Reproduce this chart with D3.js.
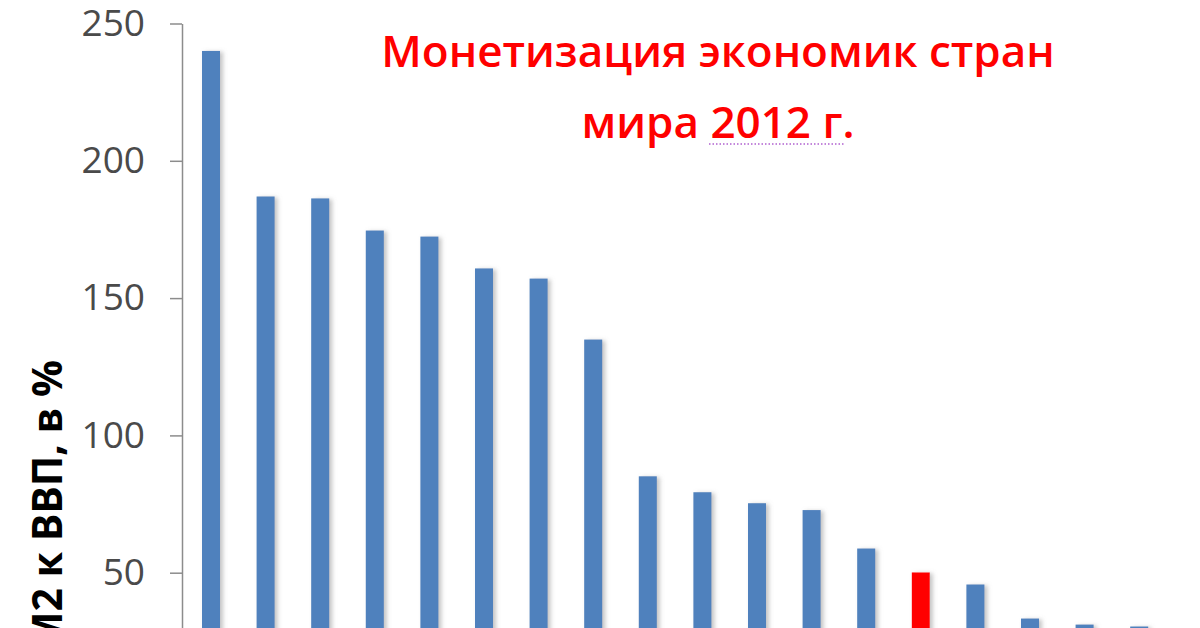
<!DOCTYPE html>
<html>
<head>
<meta charset="utf-8">
<script src="https://cdn.jsdelivr.net/npm/d3@7"></script>
<style>
  html, body { margin: 0; padding: 0; background: #fff; }
  svg { display: block; }
</style>
</head>
<body>
<script>
// countries are not readable on the picture, so just the order
var categories = ["1", "2", "3", "4", "5", "6", "7", "8", "9",
                  "10", "11", "12", "13", "14", "15", "16", "17", "18"];
var values = [240, 187, 186.3, 174.6, 172.4, 160.8, 157.1, 134.9, 85.1,
              79.3, 75.3, 72.8, 58.8, 50.1, 45.7, 33.3, 31.1, 30.4];
var highlighted = ["14"];   // the red one
var yTicks = [50, 100, 150, 200, 250];
var titleLines = ["Монетизация экономик стран", "мира 2012 г."];
var yLabel = "М2 к ВВП, в %";

var width = 1200, height = 628;

var svg = d3.select("body").append("svg")
    .attr("width", width)
    .attr("height", height);

var defs = svg.append("defs");
var f = defs.append("filter").attr("id", "shadow")
    .attr("x", "-50%").attr("y", "-5%").attr("width", "200%").attr("height", "110%");
f.append("feDropShadow")
    .attr("dx", 3).attr("dy", 1)
    .attr("stdDeviation", 2)
    .attr("flood-color", "#8a8a8a")
    .attr("flood-opacity", 0.5);

var x = d3.scaleBand()
    .domain(categories)
    .range([183.7, 183.7 + 54.6 * categories.length])
    .paddingInner(0.67)
    .paddingOuter(0.335);

var y = d3.scaleLinear()
    .domain([0, 250])
    .range([710, 23.5]);

// bars
svg.append("g").selectAll("rect")
    .data(values)
    .enter().append("rect")
    .attr("x", function(d, i) { return x(categories[i]); })
    .attr("y", function(d) { return y(d); })
    .attr("width", x.bandwidth())
    .attr("height", function(d) { return y(0) - y(d); })
    .attr("fill", function(d, i) {
        return highlighted.indexOf(categories[i]) >= 0 ? "#ff0000" : "#4f81bd";
    })
    .attr("filter", "url(#shadow)");

// y axis
var yAxis = d3.axisLeft(y)
    .tickValues(yTicks)
    .tickSize(12)
    .tickPadding(25)
    .tickSizeOuter(0);

var gy = svg.append("g")
    .attr("transform", "translate(182,0)")
    .call(yAxis);
gy.select(".domain").attr("stroke", "#8c8c8c").attr("stroke-width", 1.5);
gy.selectAll(".tick line").attr("stroke", "#8c8c8c").attr("stroke-width", 1.5);
gy.selectAll(".tick text")
    .attr("fill", "#4a4a4a")
    .style("font-family", "'Open Sans', sans-serif")
    .style("font-size", "37px");

// axis title
svg.append("text")
    .attr("transform", "translate(62,360) rotate(-90)")
    .attr("text-anchor", "end")
    .attr("fill", "#000")
    .style("font-family", "'Open Sans', sans-serif")
    .style("font-weight", 700)
    .style("font-size", "41px")
    .text(yLabel);

// chart title
var title = svg.append("g");
title.selectAll("text")
    .data(titleLines)
    .enter().append("text")
    .attr("x", 718)
    .attr("y", function(d, i) { return 67 + i * 71; })
    .attr("text-anchor", "middle")
    .attr("fill", "#ff0000")
    .style("font-family", "'Open Sans', sans-serif")
    .style("font-weight", 600)
    .style("font-size", "44px")
    .text(function(d) { return d; });

// little dotted spell-check mark under the year
svg.append("line")
    .attr("x1", 709).attr("x2", 845)
    .attr("y1", 144).attr("y2", 144)
    .attr("stroke", "#b060d0")
    .attr("stroke-width", 1.5)
    .attr("stroke-dasharray", "1.5,2");
</script>
</body>
</html>
